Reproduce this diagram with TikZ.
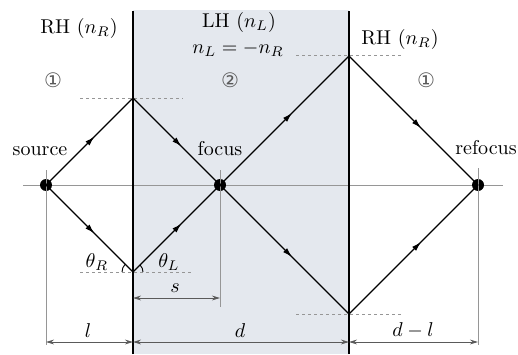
\documentclass[tikz,border=0pt]{standalone}
\usepackage{fontspec}
\newfontfamily\circfont{DejaVu Sans}
\usetikzlibrary{arrows.meta,decorations.markings}
\definecolor{lhshade}{RGB}{228,232,238}
\definecolor{thingray}{RGB}{150,150,150}
\definecolor{dimgray}{RGB}{90,90,90}
\tikzset{
  ray/.style={line width=0.6pt, postaction={decorate},
    decoration={markings, mark=at position 0.56 with {\arrow{Latex[length=5pt,width=2.8pt]}}}},
  iface/.style={line width=1.2pt},
  guide/.style={thingray, line width=0.45pt},
  normalline/.style={thingray, line width=0.5pt, dash pattern=on 1.6pt off 1.4pt},
  dimline/.style={dimgray, line width=0.45pt, {Stealth[length=4pt,width=2.4pt]}-{Stealth[length=4pt,width=2.4pt]}},
  dot/.style={circle, fill=black, inner sep=0pt, minimum size=6pt},
  lbl/.style={anchor=base, inner sep=0pt, font=\fontsize{10}{12}\selectfont},
  circnum/.style={inner sep=0pt, text=black!65, font=\circfont\fontsize{10}{12}\selectfont},
  anglearc/.style={line width=0.45pt}
}
\begin{document}
\begin{tikzpicture}[x=0.5pt,y=0.5pt]
\useasboundingbox (0,0) rectangle (518,354);
% shaded LH slab
\fill[lhshade] (133,0) rectangle (349,344);
% axis
\coordinate (axL) at (23,169);
\coordinate (axR) at (503,169);
\draw[guide] (axL) -- (axR);
% points
\node[dot] (src) at (46,169) {};
\node[dot] (foc) at (220,169) {};
\node[dot] (ref) at (478,169) {};
\coordinate (A) at (133,256);
\coordinate (B) at (133,82);
\coordinate (C) at (349,298);
\coordinate (D) at (349,40);
% interfaces
\coordinate (i1b) at (133,0);
\coordinate (i1t) at (133,343);
\coordinate (i2b) at (349,0);
\coordinate (i2t) at (349,343);
% extension lines
\coordinate (srcT) at (46,184);
\coordinate (srcB) at (46,9);
\coordinate (focT) at (220,184);
\coordinate (focB) at (220,47);
\coordinate (refT) at (478,186);
\coordinate (refB) at (478,9);
\draw[guide] (srcT) -- (srcB);
\draw[guide] (focT) -- (focB);
\draw[guide] (refT) -- (refB);
% dashed normals
\coordinate (nA1) at (80,256); \coordinate (nA2) at (183,256);
\coordinate (nB1) at (80,82); \coordinate (nB2) at (193,82);
\coordinate (nC1) at (296,298); \coordinate (nC2) at (401,298);
\coordinate (nD1) at (296,40); \coordinate (nD2) at (401,40);
\draw[normalline] (nA1) -- (nA2);
\draw[normalline] (nB1) -- (nB2);
\draw[normalline] (nC1) -- (nC2);
\draw[normalline] (nD1) -- (nD2);
% interfaces drawn
\draw[iface] (i1b) -- (i1t);
\draw[iface] (i2b) -- (i2t);
% rays
\draw[ray] (src.center) -- (A);
\draw[ray] (A) -- (foc.center);
\draw[ray] (foc.center) -- (C);
\draw[ray] (C) -- (ref.center);
\draw[ray] (src.center) -- (B);
\draw[ray] (B) -- (foc.center);
\draw[ray] (foc.center) -- (D);
\draw[ray] (D) -- (ref.center);
% angle arcs
\draw[anglearc] (B) ++(135:11) arc[start angle=135, end angle=180, radius=11];
\draw[anglearc] (B) ++(0:10) arc[start angle=0, end angle=45, radius=10];
% dimension lines
\coordinate (sL) at (133,56); \coordinate (sR) at (220,56);
\coordinate (lL) at (46,12); \coordinate (lR) at (133,12);
\coordinate (dL) at (133,12); \coordinate (dR) at (349,12);
\coordinate (dlL) at (349,12); \coordinate (dlR) at (478,12);
\draw[dimline] (sL) -- (sR);
\draw[dimline] (lL) -- (lR);
\draw[dimline] (dL) -- (dR);
\draw[dimline] (dlL) -- (dlR);
% labels
\node[lbl] (rhL) at (79,320) {RH ($n_R$)};
\node[lbl] (lh) at (239,326) {LH ($n_L$)};
\node[lbl] (nl) at (238,300) {$n_L=-n_R$};
\node[lbl] (rhR) at (400,309) {RH ($n_R$)};
\node[circnum] (c1) at (53,274) {①};
\node[circnum] (c2) at (230,274) {②};
\node[circnum] (c3) at (426,274) {①};
\node[lbl] (tsrc) at (40,199) {source};
\node[lbl] (tfoc) at (220,199) {focus};
\node[lbl] (tref) at (486,200) {refocus};
\node[lbl] (thR) at (97,87) {$\theta_R$};
\node[lbl] (thL) at (169,87) {$\theta_L$};
\node[lbl] (ts) at (175,62) {$s$};
\node[lbl] (tl) at (88,17) {$l$};
\node[lbl] (td) at (240,17) {$d$};
\node[lbl] (tdl) at (413,18) {$d-l$};
\end{tikzpicture}
\end{document}
